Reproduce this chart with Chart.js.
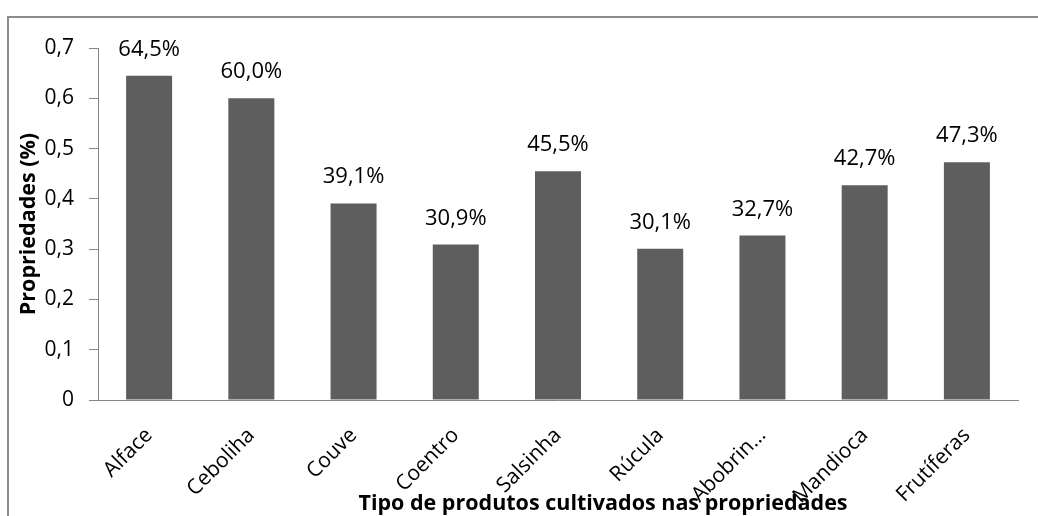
<!DOCTYPE html>
<html>
<head>
<meta charset="utf-8">
<script src="https://cdn.jsdelivr.net/npm/chart.js@4"></script>
<style>
  body { margin: 0; background: #fff; }
  #grafico { display: block; }
</style>
</head>
<body>
<canvas id="grafico" width="1038" height="516"></canvas>
<script>
const produtos = ['Alface', 'Ceboliha', 'Couve', 'Coentro', 'Salsinha', 'Rúcula', 'Abobrin…', 'Mandioca', 'Frutíferas'];
const proporcoes = [0.645, 0.600, 0.391, 0.309, 0.455, 0.301, 0.327, 0.427, 0.473];
const ticksY = [0, 0.1, 0.2, 0.3, 0.4, 0.5, 0.6, 0.7];

const FONTE = '"Open Sans", "Noto Sans", sans-serif';
const CINZA = '#868686';

function virgula(v) {
  return String(Math.round(v * 10) / 10).replace('.', ',');
}
function porcento(v) {
  return (v * 100).toFixed(1).replace('.', ',') + '%';
}

// moldura, valores sobre as barras e títulos dos eixos
const extras = {
  id: 'extras',
  afterDatasetsDraw(chart) {
    const ctx = chart.ctx;
    const meta = chart.getDatasetMeta(0);
    ctx.save();
    ctx.font = '22px ' + FONTE;
    ctx.fillStyle = '#000';
    ctx.textAlign = 'center';
    ctx.textBaseline = 'alphabetic';
    meta.data.forEach((bar, i) => {
      ctx.fillText(porcento(proporcoes[i]), bar.x, bar.y - 20);
    });
    ctx.restore();
  },
  afterDraw(chart) {
    const ctx = chart.ctx;
    const area = chart.chartArea;
    ctx.save();
    ctx.strokeStyle = '#8c8c8c';
    ctx.lineWidth = 2;
    ctx.strokeRect(8, 17, 1200, 700);

    ctx.fillStyle = '#000';
    ctx.font = 'bold 21.5px ' + FONTE;
    ctx.textAlign = 'center';
    ctx.textBaseline = 'alphabetic';
    ctx.fillText('Tipo de produtos cultivados nas propriedades', 603, 510);

    ctx.translate(29, (area.top + area.bottom) / 2);
    ctx.rotate(-Math.PI / 2);
    ctx.textBaseline = 'middle';
    ctx.fillText('Propriedades (%)', 0, 0);
    ctx.restore();
  }
};

const ctx = document.querySelector('#grafico').getContext('2d');
new Chart(ctx, {
  type: 'bar',
  data: {
    labels: produtos,
    datasets: [{
      data: proporcoes,
      backgroundColor: '#5e5e5e',
      barPercentage: 0.45,
      categoryPercentage: 1
    }]
  },
  options: {
    responsive: false,
    animation: false,
    layout: { padding: { top: 48, right: 20, left: 0, bottom: 0 } },
    plugins: {
      legend: { display: false },
      tooltip: { enabled: false }
    },
    scales: {
      x: {
        border: { color: CINZA },
        grid: { display: false },
        ticks: {
          autoSkip: false,
          minRotation: 45,
          maxRotation: 45,
          padding: 15,
          color: '#000',
          font: { family: FONTE, size: 21 }
        },
        afterFit(scale) { scale.height = 116; }
      },
      y: {
        min: 0,
        max: 0.7,
        border: { color: CINZA },
        grid: { drawOnChartArea: false, tickLength: 9, color: CINZA },
        afterBuildTicks(scale) { scale.ticks = ticksY.map(v => ({ value: v })); },
        ticks: {
          padding: 15,
          color: '#000',
          font: { family: FONTE, size: 21 },
          callback: v => virgula(v)
        },
        afterFit(scale) { scale.width = 98; }
      }
    }
  },
  plugins: [extras]
});
</script>
</body>
</html>
